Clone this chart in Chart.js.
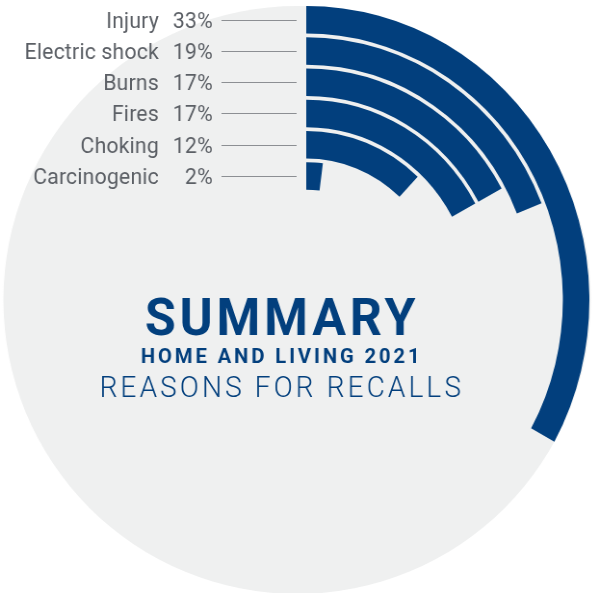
<!DOCTYPE html>
<html>
<head>
<meta charset="utf-8">
<script src="https://cdn.jsdelivr.net/npm/chart.js@4/dist/chart.umd.min.js"></script>
<style>
  html, body { margin: 0; padding: 0; background: #ffffff; overflow: hidden; }
  /* the reference is a little narrower than tall, so squash the drawing */
  #wrap { position: absolute; left: 0; top: 0; width: 620px; height: 593px;
          transform: scaleX(0.963); transform-origin: 0 0; }
</style>
</head>
<body>
<div id="wrap"><canvas id="chart"></canvas></div>
<script>
const categories = ['Injury', 'Electric shock', 'Burns', 'Fires', 'Choking', 'Carcinogenic'];
const shares = [33, 19, 17, 17, 12, 2];
const titleLines = ['SUMMARY', 'HOME AND LIVING 2021', 'REASONS FOR RECALLS'];

const BLUE = '#023f7d';
const GREY_BG = '#eff0f0';
const LABEL = '#5b5f65';

// one ring per reason, with a thin empty ring between them
const datasets = [];
categories.forEach((name, i) => {
    datasets.push({
        label: name,
        data: [shares[i], 100 - shares[i]],
        backgroundColor: [BLUE, 'rgba(0,0,0,0)'],
        borderWidth: 0,
        weight: 27.6
    });
    if (i < categories.length - 1) {
        datasets.push({
            label: 'gap',
            data: [100],
            backgroundColor: ['rgba(0,0,0,0)'],
            borderWidth: 0,
            weight: 3.7
        });
    }
});

// grey disc behind the rings
const discPlugin = {
    id: 'disc',
    beforeDatasetsDraw(chart) {
        const ctx = chart.ctx;
        const arc = chart.getDatasetMeta(0).data[0];
        ctx.save();
        ctx.fillStyle = GREY_BG;
        ctx.beginPath();
        ctx.ellipse(arc.x - 9.5, arc.y, 305, 294, 0, 0, Math.PI * 2);
        ctx.fill();
        ctx.restore();
    }
};

function spacedText(ctx, text, x, y, font, spacing) {
    ctx.font = font;
    ctx.letterSpacing = spacing + 'px';
    // trailing spacing is counted by the centring, shift it back
    ctx.fillText(text, x + spacing / 2, y);
    ctx.letterSpacing = '0px';
}

// labels with leader lines + title text in the middle
const labelPlugin = {
    id: 'labels',
    afterDatasetsDraw(chart) {
        const ctx = chart.ctx;
        ctx.save();
        categories.forEach((name, i) => {
            const arc = chart.getDatasetMeta(i * 2).data[0];
            const y = arc.y - (arc.innerRadius + arc.outerRadius) / 2;
            ctx.strokeStyle = '#8c8f93';
            ctx.lineWidth = 1;
            ctx.beginPath();
            ctx.moveTo(arc.x - 88, Math.round(y) + 0.5);
            ctx.lineTo(arc.x - 10, Math.round(y) + 0.5);
            ctx.stroke();

            ctx.fillStyle = LABEL;
            ctx.font = '400 22px Roboto';
            ctx.letterSpacing = '0.2px';
            ctx.textAlign = 'right';
            ctx.textBaseline = 'alphabetic';
            ctx.fillText(shares[i] + '%', arc.x - 97, y + 8);
            ctx.fillText(name, arc.x - 153, y + 8);
            ctx.letterSpacing = '0px';
        });

        const c = chart.getDatasetMeta(0).data[0];
        const cx = c.x - 27;
        ctx.fillStyle = BLUE;
        ctx.textAlign = 'center';
        spacedText(ctx, titleLines[0], cx, 335, '700 52px Roboto', 4);
        spacedText(ctx, titleLines[1], cx, 363, '700 21px Roboto', 3);
        spacedText(ctx, titleLines[2], cx, 397, '300 29px Roboto', 3.3);
        ctx.restore();
    }
};

new Chart(document.getElementById('chart'), {
    type: 'doughnut',
    data: { labels: categories, datasets: datasets },
    options: {
        responsive: true,
        maintainAspectRatio: false,
        animation: false,
        radius: 294,
        cutout: '37.5%',
        layout: { padding: { left: 16, right: 0, top: 7, bottom: 0 } },
        plugins: {
            legend: { display: false },
            tooltip: { enabled: false }
        }
    },
    plugins: [discPlugin, labelPlugin]
});
</script>
</body>
</html>
